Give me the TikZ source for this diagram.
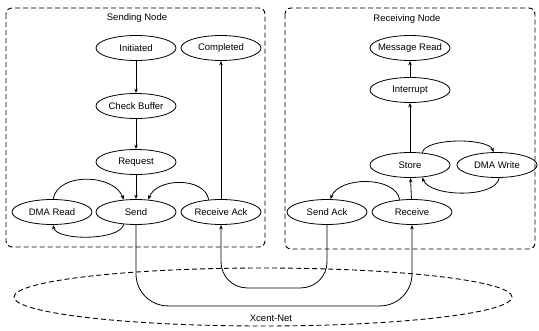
\documentclass[tikz,border=0pt]{standalone}
\usepackage{fontspec}
\setmainfont{Liberation Sans}
\usetikzlibrary{shapes.geometric, arrows.meta}

\begin{document}
\begin{tikzpicture}[x=1pt, y=1pt,
    state/.style={draw, ellipse, line width=0.8pt, minimum width=80pt, minimum height=25pt,
        inner xsep=-12pt, inner ysep=0pt, font=\fontsize{9.5}{10}\selectfont},
    region/.style={draw, line width=0.9pt, dash pattern=on 5pt off 3pt},
    flow/.style={line width=0.8pt, -{Stealth[length=4.5pt, width=3.5pt]}},
    title/.style={font=\fontsize{9.5}{10}\selectfont}]

    \useasboundingbox (0,0) rectangle (539,-330);

    % Regions
    \draw[region, rounded corners=6pt] (6,-8) rectangle (265,-247);
    \draw[region, rounded corners=6pt] (285,-8) rectangle (535,-249);
    \draw[region] (263,-297) ellipse (249 and 29);

    % Labels
    \node[title] (sendlbl) at (137,-18) {Sending Node};
    \node[title] (recvlbl) at (407,-19) {Receiving Node};
    \node[title] (netlbl) at (271,-318) {Xcent-Net};

    % Sending node states
    \node[state] (init) at (136,-48) {Initiated};
    \node[state] (comp) at (221,-48) {Completed};
    \node[state] (chk)  at (136,-106) {Check Buffer};
    \node[state] (req)  at (136,-162) {Request};
    \node[state] (send) at (136,-212) {Send};
    \node[state] (dmar) at (52,-212) {DMA Read};
    \node[state] (rack) at (221,-212) {Receive Ack};

    % Receiving node states
    \node[state] (mread) at (410,-48) {Message Read};
    \node[state] (intr)  at (410,-90) {Interrupt};
    \node[state] (store) at (410,-165) {Store};
    \node[state] (dmaw)  at (497,-165) {DMA Write};
    \node[state] (sack)  at (327,-212) {Send Ack};
    \node[state] (recv)  at (412,-212) {Receive};

    % Sending transitions
    \draw[flow] (init) -- (chk);
    \draw[flow] (chk) -- (req);
    \draw[flow] (req) -- (send);
    \draw[flow] (rack) -- (comp);
    \draw[flow] (dmar.85) to[out=80, in=110] (send.135);
    \draw[flow] (send.225) to[out=-100, in=-80, looseness=0.6] (dmar.-85);
    \draw[flow] (rack.135) to[out=100, in=70] (send.45);

    % Receiving transitions
    \draw[flow] (recv) -- (store);
    \draw[flow] (store) -- (intr);
    \draw[flow] (intr) -- (mread);
    \draw[flow] (recv.135) to[out=100, in=70, looseness=0.9] (sack.75);
    \draw[flow] (store.45) to[out=80, in=110, looseness=0.55] (dmaw.105);
    \draw[flow] (dmaw.-80) to[out=-100, in=-70, looseness=0.7] (store.-45);

    % Network
    \draw[flow, rounded corners=32pt] (send.south) -- ++(0,-81) -| (recv.south);
    \draw[flow, rounded corners=26pt] (sack.south) -- ++(0,-63) -| (rack.south);
\end{tikzpicture}
\end{document}
